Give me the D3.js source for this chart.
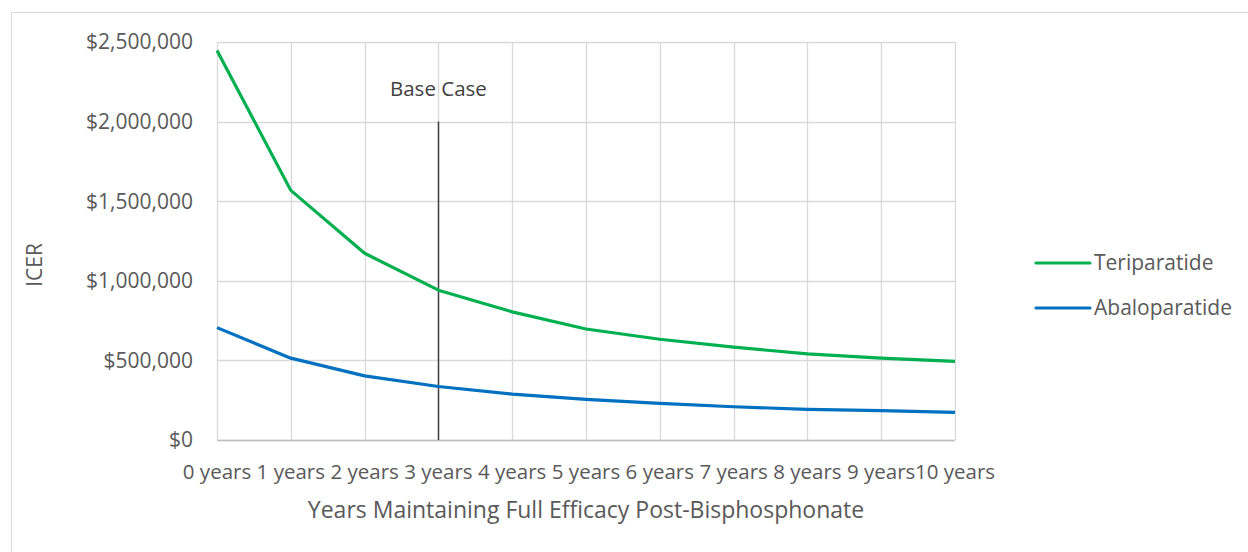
<!DOCTYPE html>
<html>
<head>
<meta charset="utf-8">
<script src="https://cdn.jsdelivr.net/npm/d3@7"></script>
<style>
  body { margin: 0; background: #fff; }
  text { font-family: "Open Sans", "Noto Sans", sans-serif; fill: #595959; }
</style>
</head>
<body>
<div id="chart"></div>
<script>
// categories and series
const years = ["0 years", "1 years", "2 years", "3 years", "4 years", "5 years",
  "6 years", "7 years", "8 years", "9 years", "10 years"];
const teriparatide = [2447000, 1568000, 1173000, 941000, 805000, 697000, 633000, 583000, 541000, 514000, 494000];
const abaloparatide = [706000, 514000, 403000, 336000, 288000, 255000, 230000, 209000, 192000, 184000, 173000];
const yTicks = [0, 500000, 1000000, 1500000, 2000000, 2500000];
const baseCase = { year: "3 years", top: 2000000, label: "Base Case" };

const series = [
  { name: "Teriparatide", values: teriparatide, color: "#00b050" },
  { name: "Abaloparatide", values: abaloparatide, color: "#0070c0" }
];

let width = 1248, height = 552;
let margin = { top: 42, right: 293, bottom: 112, left: 217 };

let svg = d3.select("#chart").append("svg")
  .attr("width", width)
  .attr("height", height);

// chart frame
svg.append("rect")
  .attr("x", 11.5).attr("y", 12.5)
  .attr("width", 1300).attr("height", 600)
  .attr("fill", "none")
  .attr("stroke", "#d9d9d9");

let x = d3.scalePoint()
  .domain(years)
  .range([margin.left, width - margin.right]);

let y = d3.scaleLinear()
  .domain([0, 2500000])
  .range([height - margin.bottom, margin.top]);

// gridlines
svg.append("g")
  .selectAll("line.h")
  .data(yTicks)
  .join("line")
  .attr("x1", margin.left).attr("x2", width - margin.right)
  .attr("y1", d => Math.round(y(d)) + 0.5).attr("y2", d => Math.round(y(d)) + 0.5)
  .attr("stroke", "#d9d9d9").attr("stroke-width", 1.3);

svg.append("g")
  .selectAll("line.v")
  .data(years)
  .join("line")
  .attr("x1", d => Math.round(x(d)) + 0.5).attr("x2", d => Math.round(x(d)) + 0.5)
  .attr("y1", y(2500000)).attr("y2", y(0))
  .attr("stroke", "#d9d9d9").attr("stroke-width", 1.3);

// bottom axis line
svg.append("line")
  .attr("x1", margin.left).attr("x2", width - margin.right)
  .attr("y1", Math.round(y(0)) + 0.5).attr("y2", Math.round(y(0)) + 0.5)
  .attr("stroke", "#bfbfbf").attr("stroke-width", 1.3);

// y tick labels
let fmt = d3.format("$,.0f");
svg.append("g")
  .selectAll("text")
  .data(yTicks)
  .join("text")
  .attr("x", margin.left - 24)
  .attr("y", d => y(d))
  .attr("dy", "0.35em")
  .attr("text-anchor", "end")
  .style("font-size", "21px")
  .text(d => fmt(d));

// x tick labels
svg.append("g")
  .selectAll("text")
  .data(years)
  .join("text")
  .attr("x", d => x(d))
  .attr("y", y(0) + 39)
  .attr("text-anchor", "middle")
  .style("font-size", "20.5px")
  .text(d => d);

// axis titles
svg.append("text")
  .attr("transform", "translate(42,265) rotate(-90)")
  .attr("text-anchor", "middle")
  .style("font-size", "21px")
  .text("ICER");

svg.append("text")
  .attr("x", (margin.left + width - margin.right) / 2)
  .attr("y", y(0) + 78)
  .attr("text-anchor", "middle")
  .style("font-size", "23px")
  .text("Years Maintaining Full Efficacy Post-Bisphosphonate");

// base case marker
svg.append("line")
  .attr("x1", Math.round(x(baseCase.year)) + 0.5).attr("x2", Math.round(x(baseCase.year)) + 0.5)
  .attr("y1", y(baseCase.top)).attr("y2", y(0))
  .attr("stroke", "#404040").attr("stroke-width", 1.5);

svg.append("text")
  .attr("x", x(baseCase.year))
  .attr("y", y(baseCase.top) - 26)
  .attr("text-anchor", "middle")
  .style("font-size", "20.5px")
  .style("fill", "#404040")
  .text(baseCase.label);

// series lines
let line = d3.line()
  .x((d, i) => x(years[i]))
  .y(d => y(d));

svg.append("g")
  .selectAll("path")
  .data(series)
  .join("path")
  .attr("d", d => line(d.values))
  .attr("fill", "none")
  .attr("stroke", d => d.color)
  .attr("stroke-width", 3.2)
  .attr("stroke-linejoin", "round");

// legend
let legend = svg.append("g")
  .selectAll("g")
  .data(series)
  .join("g")
  .attr("transform", (d, i) => "translate(1036," + (263 + i * 45) + ")");

legend.append("line")
  .attr("x1", 0).attr("x2", 54)
  .attr("stroke", d => d.color)
  .attr("stroke-width", 3.2)
  .attr("stroke-linecap", "round");

legend.append("text")
  .attr("x", 58)
  .attr("dy", "0.35em")
  .style("font-size", "21px")
  .text(d => d.name);
</script>
</body>
</html>
